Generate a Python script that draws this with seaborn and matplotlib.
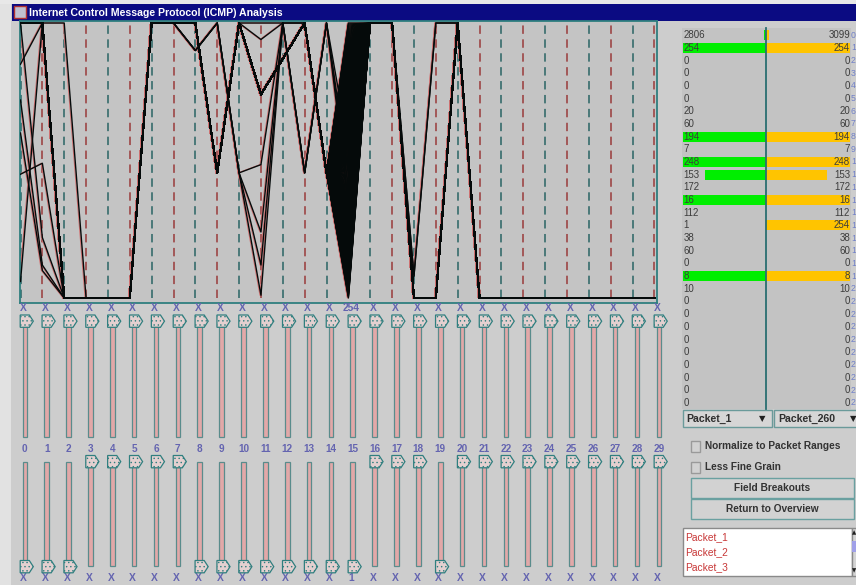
import numpy as np
import pandas as pd
import matplotlib
matplotlib.use("Agg")
import matplotlib.pyplot as plt
import seaborn as sns
from matplotlib.patches import Rectangle, Polygon
from matplotlib.transforms import offset_copy

# ---------------- data ----------------
fields = list(range(30))

# position of each packet field on its axis (0 = field min, 1 = field max)
# None = the ICMP sequence field, which runs over all packets
main_path = [1.0, 1.0, 0.0, 0.0, 0.0, 0.0, 1.0, 1.0, 1.0, 0.455, 1.0, 0.74, 0.87, 1.0, 0.455,
             None, 1.0, 1.0, 0.0, 0.0, 1.0, 0.0, 0.0, 0.0, 0.0, 0.0, 0.0, 0.0, 0.0, 0.0]
odd_paths = [
    [0.06, 1.0, 1.0, 0, 0, 0, 1, 1, 0.9, 1.0, 0.455, 0.01, 1.0, 0.455, 1.0, 0.40, 1, 1, 0.08, 1.0, 1.0, 0, 0, 0, 0, 0, 0, 0, 0, 0],
    [1.0, 0.22, 0.0, 0, 0, 0, 1, 1, 1.0, 0.455, 1.0, 0.94, 1.0, 0.455, 1.0, 0.55, 1, 1, 0.0, 0.0, 1.0, 0, 0, 0, 0, 0, 0, 0, 0, 0],
    [0.72, 0.12, 0.0, 0, 0, 0, 1, 1, 0.9, 1.0, 0.455, 0.485, 1.0, 1.0, 0.455, 0.20, 1, 1, 0.0, 0.0, 1.0, 0, 0, 0, 0, 0, 0, 0, 0, 0],
    [0.45, 0.49, 0.0, 0, 0, 0, 1, 1, 0.9, 1.0, 0.455, 0.24, 1.0, 0.455, 1.0, 0.35, 1, 1, 0.0, 0.0, 1.0, 0, 0, 0, 0, 0, 0, 0, 0, 0],
    [0.85, 1.0, 0.0, 0, 0, 0, 1, 1, 1.0, 0.455, 1.0, 1.0, 1.0, 1.0, 0.455, 0.80, 1, 1, 0.0, 0.0, 1.0, 0, 0, 0, 0, 0, 0, 0, 0, 0],
    [0.60, 0.10, 0.0, 0, 0, 0, 1, 1, 0.9, 1.0, 0.455, 0.12, 1.0, 0.455, 1.0, 0.45, 1, 1, 0.08, 1.0, 1.0, 0, 0, 0, 0, 0, 0, 0, 0, 0],
]
seq_min, seq_max = 1, 254
icmp_seq = np.arange(seq_min, seq_max + 1)

upper_labels = ["X"] * 15 + ["254"] + ["X"] * 14
lower_labels = ["X"] * 15 + ["1"] + ["X"] * 14
lower_thumb_on_top = [3, 4, 5, 6, 7, 16, 17, 18, 20, 21, 22, 23, 24, 25, 26, 27, 28, 29]

pkt1_vals = [2806, 254, 0, 0, 0, 0, 20, 60, 194, 7, 248, 153, 172, 16, 112,
             1, 38, 60, 0, 8, 10, 0, 0, 0, 0, 0, 0, 0, 0, 0]
pkt260_vals = [3099, 254, 0, 0, 0, 0, 20, 60, 194, 7, 248, 153, 172, 16, 112,
               254, 38, 60, 0, 8, 10, 0, 0, 0, 0, 0, 0, 0, 0, 0]
green_frac = [0.03, 1, 0, 0, 0, 0, 0, 0, 1, 0, 1, 0.74, 0, 1, 0,
              0, 0, 0, 0, 1, 0, 0, 0, 0, 0, 0, 0, 0, 0, 0]
yellow_frac = [0.04, 1, 0, 0, 0, 0, 0, 0, 1, 0, 1, 0.73, 0, 1, 0,
               1, 0, 0, 0, 1, 0, 0, 0, 0, 0, 0, 0, 0, 0, 0]
packet_list = ["Packet_1", "Packet_2", "Packet_3"]

# ---------------- layout ----------------
W, H = 856, 585
AX0, DX = 20.5, 21.86          # pixel x of field axis 0 and spacing
Y_TOP, Y_BOT = 23.0, 298.0      # pixel y of axis max / min
TEAL = "#2f7f7f"
LBL = "#6464b0"
FONT = ["Liberation Sans", "DejaVu Sans"]

plt.rcParams["font.family"] = FONT
plt.rcParams["hatch.linewidth"] = 0.5


def frac_rect(x0, y0, x1, y1):
    return [x0 / W, 1 - y1 / H, (x1 - x0) / W, (y1 - y0) / H]


def axis_x(i):
    return AX0 + DX * i


fig = plt.figure(figsize=(W / 100, H / 100), dpi=100)

bg = fig.add_axes([0, 0, 1, 1], zorder=0)
fg = fig.add_axes([0, 0, 1, 1], zorder=10)
for a in (bg, fg):
    a.set_xlim(0, W)
    a.set_ylim(H, 0)
    a.axis("off")

# window background + title bar
bg.add_patch(Rectangle((0, 0), W, H, fc="#cdcdcd", ec="none"))
bg.add_patch(Rectangle((0, 0), 11, H, fc="#e2e2e2", ec="none"))
bg.add_patch(Rectangle((0, 0), W, 4, fc="#e8e8e8", ec="none"))
bg.add_patch(Rectangle((12, 4), W - 12, 16.5, fc="#0b0b82", ec="none"))
bg.add_patch(Rectangle((14, 6), 12, 12, fc="#c0c0d0", ec="#b03030", lw=1))
fg.text(29, 12.5, "Internet Control Message Protocol (ICMP) Analysis", color="white",
        fontsize=7.6, fontweight="bold", va="center", ha="left")

# ---------------- parallel coordinates ----------------
rows = []
pid = 0
for s in icmp_seq:
    for f in fields:
        v = main_path[f] if main_path[f] is not None else (s - seq_min) / (seq_max - seq_min)
        rows.append((pid, f, v))
    pid += 1
for path in odd_paths:
    for f in fields:
        rows.append((pid, f, path[f]))
    pid += 1
df = pd.DataFrame(rows, columns=["packet", "field", "pos"])

x_left, x_right = 19.5, 657.0
y_up, y_dn = 21.0, 303.0
pc = fig.add_axes(frac_rect(x_left, y_up, x_right, y_dn), zorder=1)
pc.set_facecolor("#c4c4c4")
pc.set_xlim((x_left - AX0) / DX, (x_right - AX0) / DX)
pc.set_ylim((Y_BOT - y_dn) / (Y_BOT - Y_TOP), (Y_BOT - y_up) / (Y_BOT - Y_TOP))
pc.set_xticks([])
pc.set_yticks([])
for sp in pc.spines.values():
    sp.set_color(TEAL)
    sp.set_linewidth(1.3)

for i in fields:
    col = "#9a3a3a" if i % 2 else "#2a6464"
    pc.plot([i, i], [0, 1], color=col, lw=1.1, dashes=(5.5, 3.6), zorder=1)

shadow = offset_copy(pc.transData, fig=fig, x=-1, y=0, units="dots")
sns.lineplot(data=df, x="field", y="pos", units="packet", estimator=None, sort=False,
             color="#d07070", lw=0.8, ax=pc, legend=False, transform=shadow, zorder=2)
sns.lineplot(data=df, x="field", y="pos", units="packet", estimator=None, sort=False,
             color="#050a0a", lw=1.0, ax=pc, legend=False, zorder=3)
pc.set_xlabel("")
pc.set_ylabel("")


# ---------------- sliders ----------------
def thumb(ax, cx, ytop, h=12.3):
    pts = [(cx - 4.7, ytop), (cx + 4.4, ytop), (cx + 8.4, ytop + h / 2),
           (cx + 4.4, ytop + h), (cx - 4.7, ytop + h)]
    ax.add_patch(Polygon(pts, closed=True, fc="#e4d0d0", ec=TEAL, lw=0.9,
                         hatch="....", zorder=4))


def track(ax, cx, y0, y1):
    ax.add_patch(Rectangle((cx - 2.3, y0), 4.6, y1 - y0, fc="#e2a8a8",
                           ec="#5a8c8c", lw=0.9, zorder=3))


for i in fields:
    cx = axis_x(i) + 4.4
    fg.text(cx - 1.4, 308, upper_labels[i], color=LBL, fontsize=7.4, fontweight="bold",
            ha="center", va="center")
    track(fg, cx, 326, 437)
    thumb(fg, cx, 315)
    fg.text(cx, 449.5, str(i), color=LBL, fontsize=7.2, fontweight="bold",
            ha="center", va="center")
    track(fg, cx, 461.5, 566)
    if i in lower_thumb_on_top:
        thumb(fg, cx, 455.5)
    else:
        thumb(fg, cx, 560.5)
    fg.text(cx - 1.4, 578.3, lower_labels[i], color=LBL, fontsize=7.4, fontweight="bold",
            ha="center", va="center")

# ---------------- packet comparison table ----------------
ROW0, ROWH = 35.2, 12.68
tab_top, tab_bot = ROW0 - ROWH / 2, ROW0 + ROWH * 29.5
bg.add_patch(Rectangle((682, tab_top - 1), 169, tab_bot - tab_top + 1, fc="#c3c3c3", ec="none"))

bar_df = pd.DataFrame({"field": [str(f) for f in fields],
                       "green": green_frac, "yellow": yellow_frac})
axl = fig.add_axes(frac_rect(683, tab_top, 766, tab_bot), zorder=2)
sns.barplot(data=bar_df, x="green", y="field", orient="h", color="#00ee00",
            saturation=1, width=0.8, ax=axl)
axl.set_xlim(1, 0)
axr = fig.add_axes(frac_rect(766, tab_top, 850, tab_bot), zorder=2)
sns.barplot(data=bar_df, x="yellow", y="field", orient="h", color="#ffc400",
            saturation=1, width=0.8, ax=axr)
axr.set_xlim(0, 1)
for a in (axl, axr):
    a.set_ylim(29.5, -0.5)
    a.axis("off")

fg.plot([766, 766], [tab_top - 1, tab_bot], color="#2a6e70", lw=1.3)
for r, f in enumerate(fields):
    y = ROW0 + ROWH * r
    fg.text(683.5, y, str(pkt1_vals[r]), fontsize=7, color="#3c3c3c", ha="left", va="center")
    fg.text(850, y, str(pkt260_vals[r]), fontsize=7, color="#3c3c3c", ha="right", va="center")
    # only the leading digit of the field index fits before the window edge
    fg.text(851, y, str(f)[0], fontsize=6.3, color="#7080c8", ha="left", va="center")

# drop-downs
for x0, x1, label in [(682.7, 771.7, "Packet_1"), (774, 862, "Packet_260")]:
    fg.add_patch(Rectangle((x0, 410), x1 - x0, 17, fc="#d6d6d6", ec="#6a9a9a", lw=1))
    fg.text(x0 + 4, 418.5, label, fontsize=7.6, fontweight="bold", color="#2e2e2e",
            ha="left", va="center")
    fg.text(x1 - 9, 418.5, "▼", fontsize=6, color="#202020", ha="center", va="center",
            family="DejaVu Sans")

# check boxes
for yc, label in [(446.2, "Normalize to Packet Ranges"), (467.2, "Less Fine Grain")]:
    fg.add_patch(Rectangle((690.7, yc - 5.5), 9.5, 11, fc="#d2d2d2", ec="#9a9a9a", lw=1))
    fg.text(705, yc, label, fontsize=7.3, fontweight="bold", color="#333333",
            ha="left", va="center")

# buttons
for y0, label in [(478.3, "Field Breakouts"), (499.3, "Return to Overview")]:
    fg.add_patch(Rectangle((690.7, y0), 163.5, 20, fc="#d2d2d2", ec="#6aa0a0", lw=1))
    fg.text(772.5, y0 + 10, label, fontsize=7.3, fontweight="bold", color="#333333",
            ha="center", va="center")

# packet list box
fg.add_patch(Rectangle((682.7, 528.3), 169, 47.5, fc="white", ec="#8a8a8a", lw=1))
fg.add_patch(Rectangle((851.7, 528.3), 10, 47.5, fc="#d4d4d4", ec="#8a8a8a", lw=1))
fg.add_patch(Rectangle((852.5, 541), 6, 11, fc="#a0a0e8", ec="none"))
fg.text(854, 533, "▲", fontsize=4, color="#202020", ha="center", va="center", family="DejaVu Sans")
fg.text(854, 571, "▼", fontsize=4, color="#202020", ha="center", va="center", family="DejaVu Sans")
for k, name in enumerate(packet_list):
    fg.text(685, 537.3 + 14.7 * k, name, fontsize=7.4, color="#c83838", ha="left", va="center")

fig.savefig("out.png", dpi=100)
